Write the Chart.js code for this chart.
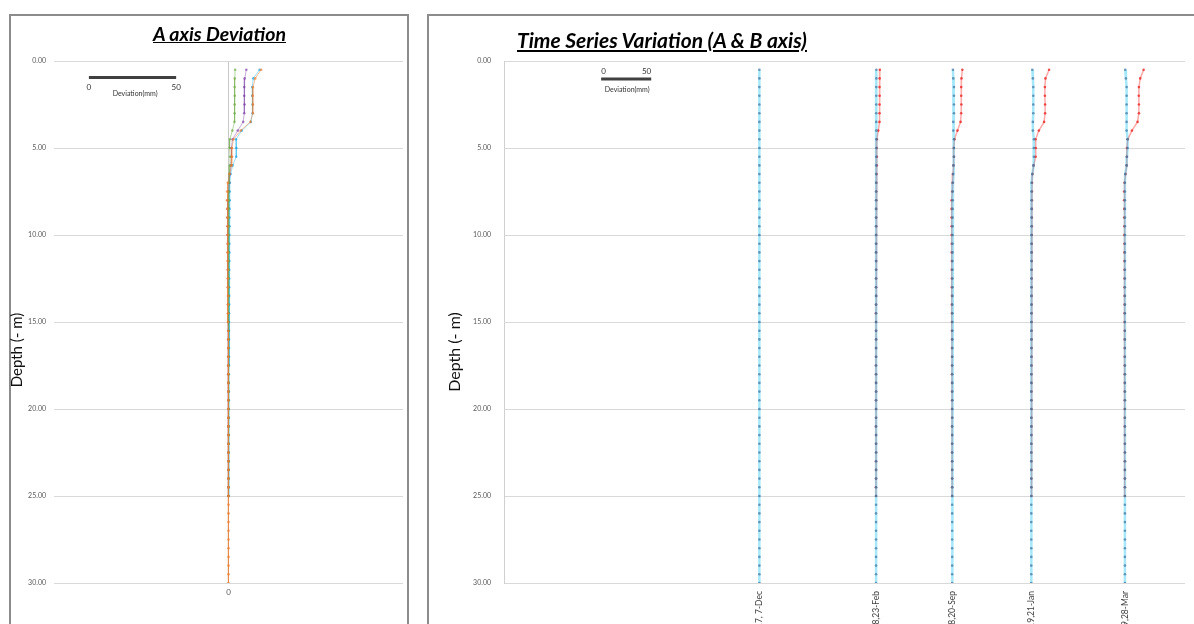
<!DOCTYPE html>
<html>
<head>
<meta charset="utf-8">
<title>Inclinometer deviation</title>
<script src="https://cdn.jsdelivr.net/npm/chart.js@4.4.1/dist/chart.umd.min.js"></script>
<style>
  html, body { margin: 0; padding: 0; background: #fff; }
  body { width: 1194px; height: 624px; overflow: hidden; position: relative; font-family: Lato, "Open Sans", sans-serif; }
  .panel { position: absolute; top: 14px; height: 650px; border: 2px solid #8c8c8c; border-bottom: none; box-sizing: border-box; }
  #panelA { left: 9px; width: 400px; }
  #panelT { left: 427px; width: 800px; }
  .title { position: absolute; font-weight: bold; font-style: italic; text-decoration: underline; white-space: nowrap; color: #000; z-index: 2; }
  #titleA { left: 153px; top: 22px; font-size: 19.5px; }
  #titleT { left: 517px; top: 27px; font-size: 21px; }
  canvas { position: absolute; top: 0; }
  #chartA { left: 0; }
  #chartT { left: 428px; }
</style>
</head>
<body>
<div class="panel" id="panelA"></div>
<div class="panel" id="panelT"></div>
<div class="title" id="titleA">A axis Deviation</div>
<div class="title" id="titleT">Time Series Variation (A &amp; B axis)</div>
<canvas id="chartA" width="410" height="660"></canvas>
<canvas id="chartT" width="766" height="680"></canvas>
<script>
// depth of each reading (m)
var depths = [0.5, 1.0, 1.5, 2.0, 2.5, 3.0, 3.5, 4.0, 4.5, 5.0,
              5.5, 6.0, 6.5, 7.0, 7.5, 8.0, 8.5, 9.0, 9.5, 10.0,
              10.5, 11.0, 11.5, 12.0, 12.5, 13.0, 13.5, 14.0, 14.5, 15.0,
              15.5, 16.0, 16.5, 17.0, 17.5, 18.0, 18.5, 19.0, 19.5, 20.0,
              20.5, 21.0, 21.5, 22.0, 22.5, 23.0, 23.5, 24.0, 24.5, 25.0,
              25.5, 26.0, 26.5, 27.0, 27.5, 28.0, 28.5, 29.0, 29.5, 30.0];

// survey dates and where each one sits along the time series axis
var dateLabels = ['2017, 7-Dec', '2018,23-Feb', '2018,20-Sep', '2019,21-Jan', '2019,28-Mar'];
var dateOffsets = [255, 371.5, 447.5, 526.5, 620];

// A axis deviation (mm)
var aFeb23 = [3.8, 3.6, 3.5, 3.6, 3.5, 3.5, 3.4, 2.2, 0.8, 0.6,
              0.9, 0.8, 0.5, 0.3, 0.2, 0.2, 0.1, 0.1, 0.2, 0.1,
              0.1, 0.0, 0.1, 0.1, 0.0, 0.0, 0.1, 0.0, -0.1, 0.0,
              0.0, 0.1, 0.0, 0.0, -0.1, 0.0, 0.0, 0.1, 0.0, 0.0,
              0.0, -0.1, 0.0, 0.0, 0.1, 0.0, 0.0, 0.0, -0.1, 0.0];
var aSep20 = [10.2, 9.3, 9.0, 9.0, 9.2, 9.0, 8.4, 5.3, 2.3, 1.6,
              1.7, 1.3, 0.8, 0.4, 0.0, -0.5, -0.6, -0.6, -0.5, -0.5,
              -0.4, -0.4, -0.3, -0.4, -0.3, -0.3, -0.2, -0.3, -0.2, -0.2,
              -0.2, -0.1, -0.2, -0.1, -0.1, -0.2, -0.1, -0.1, 0.0, -0.1,
              0.0, -0.1, 0.0, 0.0, -0.1, 0.0, 0.0, 0.0, 0.0, 0.0];
var aJan21 = [17.8, 14.2, 13.6, 13.6, 13.8, 13.8, 12.8, 7.6, 4.3, 4.5,
              4.4, 2.4, 1.2, 0.8, 0.7, 0.7, 0.6, 0.6, 0.6, 0.5,
              0.5, 0.5, 0.5, 0.4, 0.4, 0.4, 0.4, 0.4, 0.3, 0.3,
              0.3, 0.3, 0.3, 0.3, 0.3, 0.2, 0.2, 0.2, 0.2, 0.2,
              0.2, 0.2, 0.2, 0.1, 0.1, 0.1, 0.1, 0.1, 0.1, 0.1];
var aMar28 = [18.7, 15.3, 14.0, 13.8, 14.0, 14.0, 12.6, 7.0, 2.8, 2.0,
              2.0, 1.7, 0.6, -0.4, -0.8, -0.8, -0.7, -0.7, -0.6, -0.6,
              -0.5, -0.5, -0.5, -0.4, -0.4, -0.4, -0.3, -0.3, -0.3, -0.3,
              -0.2, -0.2, -0.2, -0.2, -0.2, -0.1, -0.1, -0.1, -0.1, -0.1,
              -0.1, -0.1, 0.0, 0.0, 0.0, 0.0, 0.0, 0.0, 0.0, 0.0,
              0.0, 0.0, 0.0, 0.0, 0.0, 0.0, 0.0, 0.0, 0.0, 0.0];

// B axis deviation (mm)
var bDec7 = [0, 0, 0, 0, 0, 0, 0, 0, 0, 0, 0, 0, 0, 0, 0, 0, 0, 0, 0, 0,
             0, 0, 0, 0, 0, 0, 0, 0, 0, 0, 0, 0, 0, 0, 0, 0, 0, 0, 0, 0,
             0, 0, 0, 0, 0, 0, 0, 0, 0, 0, 0, 0, 0, 0, 0, 0, 0, 0, 0, 0];
var bFeb23 = [0.3, 0.3, 0.2, 0.2, 0.2, 0.2, 0.2, 0.2, 0.3, 0.3,
              0.2, 0.2, 0.1, 0.1, 0.1, 0.1, 0.0, 0.0, 0.0, 0.0,
              0.0, 0.0, 0.0, 0.0, 0.0, 0.0, 0.0, 0.0, 0.0, 0.0,
              0.0, 0.0, 0.0, 0.0, 0.0, 0.0, 0.0, 0.0, 0.0, 0.0,
              0.0, 0.0, 0.0, 0.0, 0.0, 0.0, 0.0, 0.0, 0.0, 0.0,
              0.0, 0.0, 0.0, 0.0, 0.0, 0.0, 0.0, 0.0, 0.0, 0.0];
var bSep20 = [0.8, 1.1, 1.8, 1.8, 1.8, 1.8, 1.1, 1.1, 1.8, 1.8,
              1.8, 1.2, 0.9, 0.8, 0.6, 0.6, 0.5, 0.5, 0.5, 0.4,
              0.4, 0.4, 0.3, 0.3, 0.3, 0.3, 0.3, 0.2, 0.2, 0.2,
              0.2, 0.2, 0.2, 0.1, 0.1, 0.1, 0.1, 0.1, 0.1, 0.1,
              0.1, 0.0, 0.0, 0.0, 0.0, 0.0, 0.0, 0.0, 0.0, 0.0,
              0.0, 0.0, 0.0, 0.0, 0.0, 0.0, 0.0, 0.0, 0.0, 0.0];
var bJan21 = [1.0, 1.6, 2.0, 2.0, 2.0, 2.0, 1.6, 1.6, 2.6, 2.6,
              2.6, 2.0, 1.0, 0.3, 0.3, 0.3, 0.3, 0.3, 0.3, 0.2,
              0.2, 0.2, 0.2, 0.2, 0.2, 0.2, 0.1, 0.1, 0.1, 0.1,
              0.1, 0.1, 0.1, 0.1, 0.0, 0.0, 0.0, 0.0, 0.0, 0.0,
              0.0, 0.0, 0.0, 0.0, 0.0, 0.0, 0.0, 0.0, 0.0, 0.0,
              0.0, 0.0, 0.0, 0.0, 0.0, 0.0, 0.0, 0.0, 0.0, 0.0];
var bMar28 = [0.3, 1.0, 1.7, 1.7, 1.7, 1.7, 1.7, 1.7, 2.7, 2.7,
              2.0, 1.7, 0.3, 0.0, 0.0, 0.0, 0.0, 0.0, 0.0, 0.0,
              0.0, 0.0, 0.0, 0.0, 0.0, 0.0, 0.0, 0.0, 0.0, 0.0,
              0.0, 0.0, 0.0, 0.0, 0.0, 0.0, 0.0, 0.0, 0.0, 0.0,
              0.0, 0.0, 0.0, 0.0, 0.0, 0.0, 0.0, 0.0, 0.0, 0.0,
              0.0, 0.0, 0.0, 0.0, 0.0, 0.0, 0.0, 0.0, 0.0, 0.0];

Chart.defaults.font.family = "Lato, 'Open Sans', sans-serif";
Chart.defaults.animation = false;

// turn a deviation list into {x, y} points, shifted by offset
function profile(values, offset) {
    return values.map(function (v, i) { return { x: offset + v, y: depths[i] }; });
}

function series(values, offset, line, dot, width) {
    return {
        data: profile(values, offset),
        showLine: true,
        borderColor: line,
        borderWidth: width,
        pointRadius: 1.3,
        pointBackgroundColor: dot,
        pointBorderWidth: 0
    };
}

function scaleBar(x0, depth) {
    return {
        data: [{ x: x0, y: depth }, { x: x0 + 50, y: depth }],
        showLine: true,
        borderColor: '#404040',
        borderWidth: 3,
        pointRadius: 0
    };
}

// scale bar labels (data coords) and the depth axis title (pixel coords)
var chartText = {
    id: 'chartText',
    afterDatasetsDraw: function (chart, args, opts) {
        var ctx = chart.ctx, x = chart.scales.x, y = chart.scales.y;
        ctx.save();
        ctx.fillStyle = '#333';
        ctx.textBaseline = 'middle';
        opts.items.forEach(function (t) {
            ctx.font = t.size + "px Lato, 'Open Sans', sans-serif";
            ctx.textAlign = t.align || 'center';
            ctx.fillText(t.text, x.getPixelForValue(t.x), y.getPixelForValue(t.y));
        });
        var at = opts.axisTitle;
        ctx.translate(at.px, at.py);
        ctx.rotate(-Math.PI / 2);
        ctx.textAlign = 'center';
        ctx.fillStyle = '#111';
        ctx.font = at.size + "px Lato, 'Open Sans', sans-serif";
        ctx.fillText(at.text, 0, 0);
        ctx.restore();
    }
};

function depthAxis(width, tickPad, showBorder) {
    return {
        min: 0, max: 30, reverse: true,
        afterFit: function (s) { s.width = width; },
        border: { display: showBorder, color: '#d0d0d0' },
        grid: { color: '#d9d9d9', drawTicks: false },
        ticks: {
            stepSize: 5, padding: tickPad, color: '#595959', font: { size: 7 },
            callback: function (v) { return v.toFixed(2); }
        }
    };
}

// A axis deviation chart
var ctxA = document.getElementById('chartA').getContext('2d');
var chartA = new Chart(ctxA, {
    type: 'scatter',
    data: {
        datasets: [
            series(aMar28, 0, 'rgba(237,125,49,0.5)', 'rgba(237,125,49,0.7)', 1),
            series(aFeb23, 0, 'rgba(112,173,71,0.5)', 'rgba(112,173,71,0.7)', 1),
            series(aSep20, 0, 'rgba(112,48,160,0.4)', 'rgba(112,48,160,0.6)', 1),
            series(aJan21, 0, 'rgba(0,176,240,0.4)', 'rgba(0,150,220,0.6)', 1),
            scaleBar(-80, 0.95)
        ]
    },
    options: {
        responsive: false,
        layout: { padding: { top: 61, left: 8, right: 7, bottom: 10 } },
        plugins: {
            legend: { display: false },
            tooltip: { enabled: false },
            chartText: {
                items: [
                    { text: '0', x: -80, y: 1.5, size: 8 },
                    { text: '50', x: -30, y: 1.5, size: 8 },
                    { text: 'Deviation(mm)', x: -53.5, y: 1.88, size: 7 }
                ],
                axisTitle: { text: 'Depth (- m)', px: 17, py: 350, size: 15 }
            }
        },
        scales: {
            x: {
                type: 'linear', min: -100, max: 100,
                afterFit: function (s) { s.height = 67; },
                afterBuildTicks: function (s) { s.ticks = [{ value: 0 }]; },
                border: { display: false },
                grid: { color: '#c8c8c8', drawTicks: false },
                ticks: { padding: 5, color: '#595959', font: { size: 8 } }
            },
            y: depthAxis(46, 8, false)
        }
    },
    plugins: [chartText]
});

// time series chart, B axis in cyan, A axis in red
var bSeries = [bDec7, bFeb23, bSep20, bJan21, bMar28];
var aSeries = [null, aFeb23, aSep20, aJan21, aMar28.slice(0, 50)];
var tsData = [];
for (var i = 0; i < dateLabels.length; i++) {
    tsData.push(series(bSeries[i], dateOffsets[i], 'rgba(0,190,240,0.35)', 'rgba(70,120,160,0.75)', 2.5));
    if (aSeries[i]) {
        tsData.push(series(aSeries[i], dateOffsets[i], 'rgba(255,40,40,0.4)', 'rgba(230,30,30,0.75)', 1.5));
    }
}
tsData.push(scaleBar(97, 1.03));

var ctxT = document.getElementById('chartT').getContext('2d');
var chartT = new Chart(ctxT, {
    type: 'scatter',
    data: { datasets: tsData },
    options: {
        responsive: false,
        layout: { padding: { top: 61, left: 8, right: 9, bottom: 10 } },
        plugins: {
            legend: { display: false },
            tooltip: { enabled: false },
            chartText: {
                items: [
                    { text: '0', x: 97, y: 0.62, size: 8, align: 'left' },
                    { text: '50', x: 147, y: 0.62, size: 8, align: 'right' },
                    { text: 'Deviation(mm)', x: 123, y: 1.63, size: 7 }
                ],
                axisTitle: { text: 'Depth (- m)', px: 27, py: 352, size: 16 }
            }
        },
        scales: {
            x: {
                type: 'linear', min: 0, max: 680,
                afterFit: function (s) { s.height = 87; },
                afterBuildTicks: function (s) {
                    s.ticks = dateOffsets.map(function (v) { return { value: v }; });
                },
                border: { display: false },
                grid: { display: false },
                ticks: {
                    autoSkip: false, minRotation: 90, maxRotation: 90, padding: 0,
                    color: '#404040', font: { size: 8.5 },
                    callback: function (v, idx) { return dateLabels[idx]; }
                }
            },
            y: depthAxis(68, 13, true)
        }
    },
    plugins: [chartText]
});
</script>
</body>
</html>
